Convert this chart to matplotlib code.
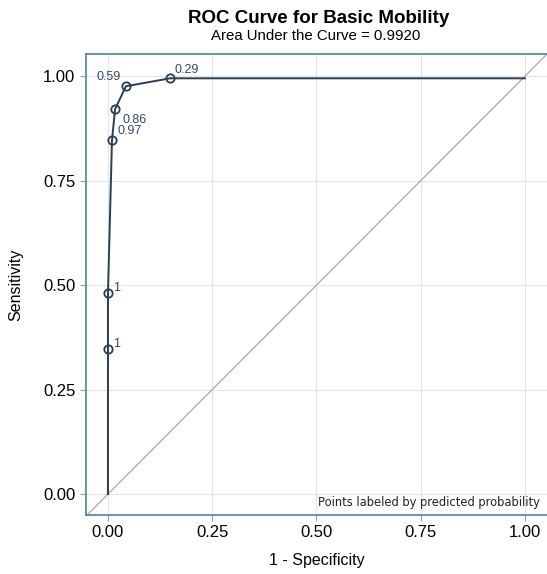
import matplotlib
matplotlib.use("Agg")
import matplotlib.pyplot as plt

plt.rcParams['font.family'] = ['Liberation Sans', 'DejaVu Sans']

# ROC points (1 - specificity, sensitivity) and predicted probability labels
fpr = [0.0, 0.0, 0.0, 0.0096, 0.017, 0.043, 0.149, 1.0]
tpr = [0.0, 0.347, 0.481, 0.847, 0.921, 0.976, 0.995, 0.995]
pt_idx = [1, 2, 3, 4, 5, 6]
pt_labels = ["1", "1", "0.97", "0.86", "0.59", "0.29"]
auc = 0.9920
ticks = [0.0, 0.25, 0.5, 0.75, 1.0]

# label offsets in points (dx, dy, ha)
offsets = [(4, 4, 'left'), (4, 4, 'left'), (4, 6.5, 'left'), (5, -8, 'left'),
           (-4, 7, 'right'), (3, 6, 'left')]

line_col = '#2b3e50'
lab_col = '#3a4666'
frame_col = '#4d7fb0'

fig = plt.figure(figsize=(5.47, 5.74), dpi=100)
ax = fig.add_axes([0.157, 0.1028, 0.846, 0.803])

ax.set_xlim(-0.053, 1.057)
ax.set_ylim(-0.05, 1.053)

ax.plot([-0.053, 1.057], [-0.053, 1.057], color='#a8a8a8', lw=0.9, zorder=2)
ax.plot(fpr, tpr, color=line_col, lw=1.4, zorder=3)
ax.plot([fpr[i] for i in pt_idx], [tpr[i] for i in pt_idx], 'o', ms=6,
        mfc='none', mec=line_col, mew=1.3, zorder=4)
for i, lab, (dx, dy, ha) in zip(pt_idx, pt_labels, offsets):
    ax.annotate(lab, (fpr[i], tpr[i]), xytext=(dx, dy), textcoords='offset points',
                ha=ha, va='center', fontsize=9, color=lab_col)

ax.set_xticks(ticks)
ax.set_yticks(ticks)
ax.set_xticklabels([f"{t:.2f}" for t in ticks])
ax.set_yticklabels([f"{t:.2f}" for t in ticks])
ax.tick_params(labelsize=12, color='#999999', length=4, width=0.8)
ax.grid(True, color='#e3e3e3', lw=0.8)
ax.set_axisbelow(True)
for s in ax.spines.values():
    s.set_color(frame_col)
    s.set_linewidth(1.2)

ax.set_xlabel('1 - Specificity', fontsize=11.5, labelpad=9)
ax.set_ylabel('Sensitivity', fontsize=11.5, labelpad=14)

ax.text(0.98, 0.012, 'Points labeled by predicted probability', transform=ax.transAxes,
        ha='right', va='bottom', fontsize=8.3, color='#222222', family='DejaVu Sans')

fig.text(0.582, 0.968, 'ROC Curve for Basic Mobility', ha='center', va='center',
         fontsize=13.5, fontweight='bold')
fig.text(0.578, 0.938, f'Area Under the Curve = {auc:.4f}', ha='center', va='center',
         fontsize=10.8)

fig.savefig('out.png', dpi=100)
